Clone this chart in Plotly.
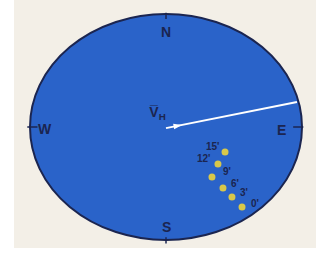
import plotly.graph_objects as go

# Data: positions on the horizontal plane compass (unit ellipse = boundary)
depth_labels = ["15'", "12'", "9'", "6'", "3'", "0'"]
dot_x = [0.434, 0.382, 0.338, 0.419, 0.485, 0.559]
dot_y = [-0.221, -0.327, -0.442, -0.540, -0.619, -0.708]

vector_start = [0.0, -0.01]
vector_end = [0.963, 0.221]
arrow_tip = [0.118, 0.018]

compass_labels = ["N", "E", "S", "W"]
compass_x = [0.0, 0.85, 0.0, -0.89]
compass_y = [0.84, -0.027, -0.885, -0.018]

NAVY = "#1b2550"
BLUE = "#2a63c9"
YELLOW = "#d8c84a"
BEIGE = "#f3efe7"

W, H = 325, 260
cx, cy, rx, ry = 166, 127, 136, 113
xr = [(0 - cx) / rx, (W - cx) / rx]
yr = [(cy - H) / ry, cy / ry]

fig = go.Figure()

shapes = [
    dict(type="rect", xref="paper", yref="paper", x0=14 / W, x1=316 / W,
         y0=1 - 248 / H, y1=1, fillcolor=BEIGE, line=dict(width=0), layer="below"),
    dict(type="circle", xref="x", yref="y", x0=-1, x1=1, y0=-1, y1=1,
         fillcolor=BLUE, line=dict(color=NAVY, width=2), layer="below"),
    # compass ticks
    dict(type="line", x0=0, x1=0, y0=1.01, y1=0.955, line=dict(color=NAVY, width=1.5)),
    dict(type="line", x0=0, x1=0, y0=-0.975, y1=-1.03, line=dict(color=NAVY, width=1.5)),
    dict(type="line", x0=-1.02, x1=-0.945, y0=0, y1=0, line=dict(color=NAVY, width=1.5)),
    dict(type="line", x0=0.935, x1=1.01, y0=0, y1=0, line=dict(color=NAVY, width=1.5)),
]

# vector line
fig.add_trace(go.Scatter(x=[vector_start[0], vector_end[0]], y=[vector_start[1], vector_end[1]],
                         mode="lines", line=dict(color="white", width=2), hoverinfo="skip"))
# arrowhead
fig.add_trace(go.Scatter(x=[arrow_tip[0]], y=[arrow_tip[1]], mode="markers",
                         marker=dict(symbol="arrow", angle=79, size=9, color="white",
                                     line=dict(width=0)), hoverinfo="skip"))
# dots
fig.add_trace(go.Scatter(x=dot_x, y=dot_y, mode="markers",
                         marker=dict(color=YELLOW, size=7, line=dict(width=0)),
                         hoverinfo="skip"))

annotations = []
for t, x, y in zip(compass_labels, compass_x, compass_y):
    annotations.append(dict(x=x, y=y, text=f"<b>{t}</b>", showarrow=False,
                            font=dict(family="Liberation Sans", size=14, color=NAVY)))

offsets = [(-12, 5), (-14, 5), (15, 5), (12, 5), (12, 4), (13, 4)]
for lab, x, y, (dx, dy) in zip(depth_labels, dot_x, dot_y, offsets):
    annotations.append(dict(x=x, y=y, text=f"<b>{lab}</b>", showarrow=False, xshift=dx, yshift=dy,
                            font=dict(family="Liberation Sans", size=10, color=NAVY)))

annotations.append(dict(x=-0.066, y=0.124, text="<b>V\u0305<sub>H</sub></b>", showarrow=False,
                        font=dict(family="Liberation Sans", size=14, color=NAVY)))

fig.update_layout(
    width=W, height=H, margin=dict(l=0, r=0, t=0, b=0),
    paper_bgcolor="white", plot_bgcolor="rgba(0,0,0,0)",
    showlegend=False, shapes=shapes, annotations=annotations,
    xaxis=dict(range=xr, visible=False, fixedrange=True),
    yaxis=dict(range=yr, visible=False, fixedrange=True),
)

fig.write_html("out.html", config={"displayModeBar": False},
               post_script="document.body.style.margin='0';document.body.style.overflow='hidden';")
